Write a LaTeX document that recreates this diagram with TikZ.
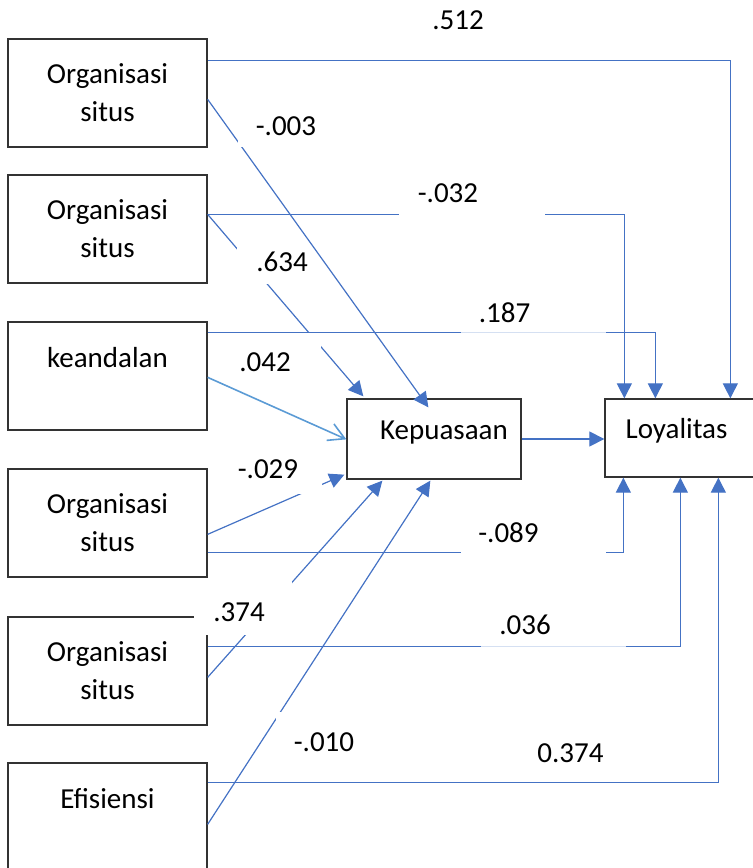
\documentclass[tikz,border=0pt]{standalone}
\usepackage{fontspec}
\setmainfont{Carlito}
\usetikzlibrary{arrows.meta, calc}
\definecolor{pathblue}{HTML}{4472C4}
\definecolor{lightpath}{HTML}{5B9BD5}

\begin{document}
\begin{tikzpicture}[x=0.5pt, y=-0.5pt,
    every node/.style={font=\fontsize{14.5pt}{19pt}\selectfont},
    varbox/.style={draw=black!80, line width=0.65pt, minimum width=99.5pt, minimum height=54pt, align=center},
    midbox/.style={draw=black!80, line width=0.65pt, minimum height=40pt, inner sep=0pt, text height=5pt, text depth=4.5pt},
    link/.style={draw=pathblue, line width=0.6pt, -{Triangle[length=7.5pt, width=7.5pt]}},
    weaklink/.style={draw=lightpath, line width=0.8pt, -{Straight Barb[length=8pt, width=9pt]}},
    coef/.style={inner sep=0pt}]
    \useasboundingbox (0,0) rectangle (752,868);

    % Variables on the left
    \node[varbox] (org1) at (107.5,93) {Organisasi\\situs};
    \node[varbox] (org2) at (107.5,229) {Organisasi\\situs};
    \node[varbox] (keandalan) at (107.5,376) {keandalan\\\mbox{}};
    \node[varbox] (org3) at (107.5,523) {Organisasi\\situs};
    \node[varbox] (org4) at (107.5,671) {Organisasi\\situs};
    \node[varbox] (efisiensi) at (107.5,817) {Efisiensi\\\mbox{}};

    % Mediator and outcome
    \node[midbox, minimum width=87pt] (kepuasaan) at (434,439) {\hspace*{10pt}Kepuasaan};
    \node[midbox, minimum width=82pt, minimum height=39pt] (loyalitas) at (687,438) {Loyalitas\hspace*{10.5pt}};

    % Direct paths to Loyalitas
    \draw[link] ($(org1.north east)+(0,22)$) -| ($(loyalitas.north west)+(126,0)$);
    \draw[link] ($(org2.north east)+(0,40)$) -| ($(loyalitas.north west)+(20,0)$);
    \draw[link] ($(keandalan.north east)+(0,11)$) -| ($(loyalitas.north west)+(51,0)$);
    \draw[link] ($(org3.north east)+(0,84)$) -| ($(loyalitas.south west)+(19,0)$);
    \draw[link] ($(org4.north east)+(0,30)$) -| ($(loyalitas.south west)+(76,0)$);
    \draw[link] ($(efisiensi.north east)+(0,20)$) -| ($(loyalitas.south west)+(114,0)$);

    % Paths to Kepuasaan
    \draw[link] ($(org1.north east)+(0,61)$) -- ($(kepuasaan.north west)+(82,9)$);
    \draw[link] ($(org2.north east)+(0,40)$) -- ($(kepuasaan.north west)+(17,-2)$);
    \draw[weaklink] ($(keandalan.north east)+(0,56)$) -- ($(kepuasaan.north west)+(0,41)$);
    \draw[link] ($(org3.north east)+(0,66)$) -- ($(kepuasaan.south west)+(-2,-5)$);
    \draw[link] ($(org4.north east)+(0,61)$) -- ($(kepuasaan.south west)+(36,1)$);
    \draw[link] ($(efisiensi.north east)+(0,62)$) -- ($(kepuasaan.south west)+(84,1)$);
    \draw[link] (kepuasaan.east) -- (kepuasaan.east -| loyalitas.west);

    % White text boxes behind the coefficients
    \foreach \xa/\ya/\xb/\yb in {238/107/336/147, 237/240/306/284, 399/176/545/217,
        209/333/321/372, 214/445/322/494, 461/510/606/556,
        194/580/292/635, 276/712/374/772}
        \fill[white] (\xa,\ya) rectangle (\xb,\yb);
    \foreach \xa/\ya/\xb/\yb in {461/290/606/336, 481/605/626/650}
        \fill[white, fill opacity=0.78] (\xa,\ya) rectangle (\xb,\yb);

    % Coefficients
    \node[coef] (c1) at (458,20.5) {.512};
    \node[coef] (c2) at (286,126.5) {-.003};
    \node[coef] (c3) at (448,193.5) {-.032};
    \node[coef] (c4) at (282,261.5) {.634};
    \node[coef] (c5) at (504.5,312.5) {.187};
    \node[coef] (c6) at (265,362) {.042};
    \node[coef] (c7) at (268,469.5) {-.029};
    \node[coef] (c8) at (508.5,532.5) {-.089};
    \node[coef] (c9) at (239,612) {.374};
    \node[coef] (c10) at (525,625) {.036};
    \node[coef] (c11) at (324,742.5) {-.010};
    \node[coef] (c12) at (570.5,753) {0.374};
\end{tikzpicture}
\end{document}
